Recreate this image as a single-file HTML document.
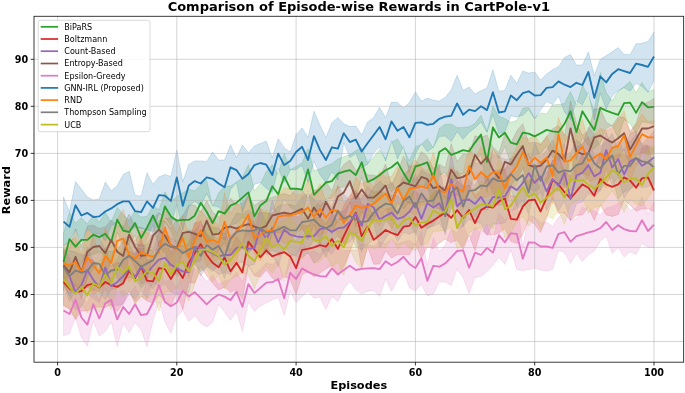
<!DOCTYPE html>
<html><head><meta charset="utf-8"><title>Comparison of Episode-wise Rewards in CartPole-v1</title>
<style>html,body{margin:0;padding:0;background:#fff}svg{display:block}</style></head>
<body>
<svg width="685" height="393" viewBox="0 0 685 393">
<rect width="685" height="393" fill="#fff"/>
<clipPath id="c"><rect x="34.0" y="16.3" width="649.65" height="345.9"/></clipPath>
<g clip-path="url(#c)">
<path d="M63.5 233.3L69.5 212.4L75.5 223.2L81.4 217.8L87.4 223.9L93.3 215.0L99.3 222.0L105.3 212.6L111.2 222.0L117.2 207.5L123.2 214.3L129.1 220.4L135.1 210.8L141.1 216.9L147.0 216.4L153.0 206.1L158.9 209.8L164.9 191.9L170.9 201.8L176.8 196.6L182.8 192.7L188.8 189.4L194.7 190.8L200.7 184.9L206.7 180.4L212.6 206.5L218.6 192.9L224.6 186.5L230.5 186.1L236.5 182.1L242.4 177.8L248.4 164.7L254.4 191.0L260.3 183.9L266.3 171.7L272.3 164.7L278.2 174.1L284.2 153.4L290.2 169.8L296.1 166.5L302.1 162.8L308.0 148.7L314.0 170.8L320.0 168.9L325.9 166.1L331.9 163.7L337.9 159.0L343.8 156.7L349.8 154.8L355.8 150.6L361.7 147.7L367.7 162.8L373.7 156.7L379.6 149.6L385.6 159.0L391.5 142.6L397.5 138.8L403.5 148.7L409.4 160.9L415.4 146.8L421.4 144.4L427.3 138.8L433.3 148.0L439.3 128.5L445.2 124.2L451.2 124.2L457.1 127.7L463.1 127.5L469.1 126.8L475.0 123.3L481.0 115.3L487.0 131.3L492.9 106.3L498.9 116.2L504.9 118.6L510.8 122.3L516.8 120.5L522.8 108.2L528.7 107.3L534.7 118.1L540.6 112.9L546.6 113.9L552.6 104.9L558.5 104.5L564.5 103.5L570.5 91.5L576.4 104.9L582.4 85.0L588.4 96.5L594.3 110.6L600.3 72.5L606.2 92.7L612.2 100.7L618.2 91.3L624.1 86.6L630.1 81.4L636.1 92.7L642.0 82.4L648.0 91.8L654.0 89.4L654.0 124.2L648.0 122.8L642.0 121.9L636.1 133.2L630.1 123.8L624.1 119.5L618.2 138.3L612.2 125.2L606.2 128.5L600.3 143.0L594.3 149.1L588.4 145.4L582.4 137.6L576.4 159.5L570.5 131.0L564.5 144.0L558.5 160.0L552.6 157.6L546.6 145.9L540.6 153.4L534.7 154.8L528.7 160.0L522.8 157.1L516.8 168.4L510.8 162.8L504.9 146.8L498.9 158.6L492.9 148.7L487.0 192.4L481.0 153.9L475.0 161.8L469.1 175.7L463.1 172.7L457.1 177.6L451.2 185.4L445.2 172.2L439.3 175.5L433.3 207.2L427.3 185.8L421.4 184.9L415.4 186.3L409.4 204.2L403.5 197.6L397.5 185.8L391.5 191.9L385.6 181.6L379.6 200.4L373.7 201.8L367.7 200.9L361.7 176.9L355.8 199.5L349.8 185.4L343.8 186.8L337.9 188.2L331.9 198.5L325.9 199.0L320.0 208.4L314.0 218.8L308.0 190.1L302.1 216.4L296.1 210.8L290.2 207.5L284.2 199.5L278.2 214.5L272.3 207.9L266.3 230.5L260.3 227.2L254.4 241.8L248.4 220.2L242.4 217.3L236.5 223.5L230.5 225.1L224.6 240.6L218.6 229.6L212.6 239.4L206.7 243.0L200.7 220.6L194.7 240.6L188.8 250.5L182.8 247.2L176.8 244.6L170.9 231.0L164.9 221.1L158.9 247.4L153.0 224.9L147.0 239.0L141.1 259.2L135.1 235.2L129.1 243.9L123.2 246.7L117.2 231.9L111.2 261.5L105.3 255.0L99.3 252.1L93.3 254.5L87.4 255.9L81.4 262.0L75.5 270.2L69.5 266.0L63.5 290.7Z" fill="#2ca02c" fill-opacity="0.2" stroke="#2ca02c" stroke-opacity="0.2" stroke-width="0.9" stroke-linejoin="round"/>
<path d="M63.5 259.2L69.5 267.6L75.5 264.7L81.4 271.4L87.4 259.2L93.3 260.0L99.3 267.8L105.3 256.5L111.2 265.8L117.2 262.4L123.2 263.5L129.1 250.9L135.1 253.6L141.1 237.0L147.0 260.2L153.0 259.5L158.9 241.1L164.9 237.8L170.9 252.5L176.8 245.0L182.8 246.3L188.8 243.3L194.7 223.0L200.7 221.5L206.7 234.3L212.6 242.4L218.6 244.3L224.6 227.8L230.5 250.2L236.5 236.3L242.4 245.1L248.4 218.1L254.4 223.5L260.3 237.7L266.3 230.7L272.3 234.9L278.2 226.3L284.2 227.7L290.2 233.4L296.1 241.6L302.1 225.0L308.0 226.1L314.0 218.2L320.0 217.1L325.9 224.7L331.9 212.6L337.9 223.1L343.8 205.8L349.8 195.5L355.8 190.0L361.7 204.4L367.7 206.4L373.7 215.6L379.6 206.4L385.6 209.2L391.5 207.6L397.5 215.9L403.5 199.1L409.4 196.9L415.4 190.5L421.4 197.3L427.3 201.0L433.3 192.7L439.3 189.8L445.2 186.2L451.2 193.0L457.1 180.2L463.1 186.6L469.1 185.0L475.0 195.7L481.0 190.4L487.0 178.5L492.9 180.1L498.9 169.5L504.9 168.9L510.8 196.2L516.8 195.8L522.8 178.9L528.7 181.3L534.7 174.6L540.6 190.4L546.6 177.2L552.6 160.1L558.5 155.5L564.5 171.7L570.5 176.2L576.4 167.5L582.4 154.1L588.4 167.8L594.3 171.0L600.3 153.0L606.2 154.0L612.2 157.2L618.2 154.2L624.1 154.9L630.1 156.4L636.1 164.2L642.0 147.9L648.0 145.9L654.0 169.7L654.0 211.3L648.0 208.8L642.0 208.8L636.1 211.2L630.1 204.9L624.1 199.8L618.2 214.6L612.2 216.4L606.2 214.9L600.3 205.1L594.3 220.4L588.4 207.6L582.4 214.7L576.4 215.4L570.5 220.4L564.5 212.7L558.5 213.3L552.6 199.3L546.6 217.9L540.6 232.5L534.7 224.4L528.7 219.5L522.8 234.1L516.8 243.6L510.8 241.3L504.9 228.2L498.9 233.2L492.9 234.8L487.0 234.6L481.0 229.7L475.0 250.8L469.1 235.1L463.1 249.1L457.1 239.9L451.2 242.6L445.2 239.1L439.3 243.0L433.3 248.6L427.3 246.9L421.4 258.0L415.4 243.2L409.4 254.7L403.5 254.4L397.5 254.5L391.5 258.1L385.6 250.9L379.6 264.0L373.7 264.2L367.7 247.1L361.7 267.9L355.8 235.2L349.8 252.3L343.8 266.5L337.9 274.6L331.9 265.4L325.9 268.8L320.0 273.1L314.0 276.7L308.0 271.6L302.1 274.6L296.1 294.7L290.2 279.3L284.2 276.6L278.2 281.8L272.3 277.9L266.3 269.9L260.3 277.0L254.4 275.6L248.4 265.5L242.4 299.6L236.5 289.2L230.5 292.6L224.6 286.9L218.6 290.1L212.6 283.1L206.7 275.7L200.7 266.8L194.7 283.2L188.8 282.2L182.8 309.7L176.8 293.1L170.9 305.4L164.9 300.4L158.9 295.2L153.0 303.1L147.0 301.0L141.1 296.4L135.1 302.4L129.1 291.0L123.2 302.9L117.2 311.5L111.2 304.4L105.3 307.5L99.3 307.0L93.3 307.3L87.4 310.9L81.4 310.9L75.5 319.5L69.5 309.2L63.5 305.3Z" fill="#d62728" fill-opacity="0.2" stroke="#d62728" stroke-opacity="0.2" stroke-width="0.9" stroke-linejoin="round"/>
<path d="M63.5 248.2L69.5 257.8L75.5 273.8L81.4 263.2L87.4 246.7L93.3 261.1L99.3 272.3L105.3 246.5L111.2 265.7L117.2 259.2L123.2 247.6L129.1 244.3L135.1 254.7L141.1 243.0L147.0 249.2L153.0 250.0L158.9 231.9L164.9 231.7L170.9 237.5L176.8 241.8L182.8 250.8L188.8 251.7L194.7 230.5L200.7 223.9L206.7 234.3L212.6 237.1L218.6 238.4L224.6 237.6L230.5 235.1L236.5 232.1L242.4 231.9L248.4 231.7L254.4 231.4L260.3 208.4L266.3 223.6L272.3 200.3L278.2 219.0L284.2 212.4L290.2 216.1L296.1 216.4L302.1 216.9L308.0 219.4L314.0 209.1L320.0 200.0L325.9 206.5L331.9 210.0L337.9 211.9L343.8 211.0L349.8 202.2L355.8 194.8L361.7 199.1L367.7 186.4L373.7 192.1L379.6 191.2L385.6 193.4L391.5 195.5L397.5 196.0L403.5 201.4L409.4 189.2L415.4 173.9L421.4 191.5L427.3 178.4L433.3 188.7L439.3 183.0L445.2 197.1L451.2 153.3L457.1 184.0L463.1 174.4L469.1 179.8L475.0 185.7L481.0 170.4L487.0 177.6L492.9 169.8L498.9 171.2L504.9 169.6L510.8 160.8L516.8 171.8L522.8 160.7L528.7 153.1L534.7 167.6L540.6 161.0L546.6 172.5L552.6 160.3L558.5 161.0L564.5 144.1L570.5 177.6L576.4 147.2L582.4 143.7L588.4 136.6L594.3 156.2L600.3 154.5L606.2 131.8L612.2 149.7L618.2 141.1L624.1 150.7L630.1 133.6L636.1 131.2L642.0 144.0L648.0 138.1L654.0 130.8L654.0 183.5L648.0 186.6L642.0 187.7L636.1 185.0L630.1 189.1L624.1 198.4L618.2 177.0L612.2 185.3L606.2 168.3L600.3 190.8L594.3 196.6L588.4 193.7L582.4 201.7L576.4 203.8L570.5 220.4L564.5 201.2L558.5 210.7L552.6 197.7L546.6 210.5L540.6 191.9L534.7 198.5L528.7 193.2L522.8 205.4L516.8 208.3L510.8 211.8L504.9 222.8L498.9 224.0L492.9 224.0L487.0 235.5L481.0 223.4L475.0 222.1L469.1 219.2L463.1 226.5L457.1 229.1L451.2 205.2L445.2 231.9L439.3 223.5L433.3 226.2L427.3 228.1L421.4 246.0L415.4 231.6L409.4 234.2L403.5 232.3L397.5 241.5L391.5 229.8L385.6 238.4L379.6 248.2L373.7 222.8L367.7 221.0L361.7 252.6L355.8 232.4L349.8 241.9L343.8 243.9L337.9 244.4L331.9 253.8L325.9 249.8L320.0 258.2L314.0 263.2L308.0 252.9L302.1 257.3L296.1 256.3L290.2 253.4L284.2 246.7L278.2 266.5L272.3 255.1L266.3 254.4L260.3 248.8L254.4 264.4L248.4 266.0L242.4 262.0L236.5 263.7L230.5 274.8L224.6 272.3L218.6 274.4L212.6 269.1L206.7 266.2L200.7 271.9L194.7 263.5L188.8 293.0L182.8 292.0L176.8 294.4L170.9 292.2L164.9 283.8L158.9 287.4L153.0 281.6L147.0 298.4L141.1 290.5L135.1 299.4L129.1 293.9L123.2 304.6L117.2 305.3L111.2 306.3L105.3 288.4L99.3 302.5L93.3 298.6L87.4 293.4L81.4 307.0L75.5 310.5L69.5 294.5L63.5 283.3Z" fill="#9467bd" fill-opacity="0.2" stroke="#9467bd" stroke-opacity="0.2" stroke-width="0.9" stroke-linejoin="round"/>
<path d="M63.5 249.1L69.5 248.0L75.5 229.0L81.4 246.3L87.4 226.0L93.3 225.2L99.3 228.5L105.3 226.9L111.2 220.2L117.2 225.3L123.2 227.1L129.1 214.1L135.1 226.3L141.1 227.5L147.0 229.7L153.0 218.2L158.9 212.7L164.9 218.5L170.9 217.7L176.8 221.5L182.8 215.7L188.8 205.2L194.7 204.9L200.7 212.1L206.7 200.6L212.6 212.0L218.6 216.9L224.6 212.4L230.5 198.0L236.5 204.4L242.4 203.3L248.4 195.9L254.4 205.6L260.3 201.3L266.3 199.1L272.3 197.4L278.2 195.4L284.2 193.5L290.2 195.6L296.1 188.4L302.1 190.2L308.0 197.8L314.0 190.6L320.0 189.0L325.9 181.8L331.9 191.1L337.9 173.4L343.8 164.6L349.8 160.1L355.8 170.5L361.7 167.5L367.7 175.0L373.7 175.2L379.6 177.1L385.6 164.1L391.5 185.1L397.5 172.1L403.5 156.2L409.4 166.9L415.4 164.6L421.4 151.6L427.3 156.3L433.3 168.5L439.3 163.9L445.2 167.9L451.2 143.7L457.1 161.8L463.1 153.9L469.1 154.6L475.0 135.8L481.0 137.8L487.0 134.9L492.9 146.9L498.9 152.5L504.9 133.9L510.8 143.1L516.8 131.1L522.8 123.7L528.7 142.9L534.7 142.2L540.6 144.2L546.6 136.9L552.6 128.8L558.5 125.8L564.5 136.0L570.5 101.0L576.4 123.2L582.4 135.4L588.4 130.4L594.3 109.0L600.3 108.6L606.2 122.3L612.2 125.8L618.2 117.0L624.1 117.1L630.1 131.2L636.1 123.2L642.0 104.0L648.0 102.3L654.0 98.4L654.0 153.8L648.0 154.6L642.0 152.9L636.1 155.4L630.1 168.1L624.1 149.2L618.2 159.6L612.2 159.3L606.2 156.3L600.3 162.4L594.3 165.7L588.4 176.3L582.4 172.8L576.4 179.8L570.5 155.9L564.5 185.8L558.5 182.4L552.6 172.4L546.6 182.1L540.6 187.0L534.7 191.8L528.7 187.4L522.8 168.0L516.8 178.5L510.8 185.7L504.9 189.8L498.9 204.1L492.9 192.8L487.0 179.4L481.0 189.7L475.0 173.7L469.1 191.7L463.1 199.8L457.1 194.9L451.2 196.0L445.2 213.7L439.3 208.7L433.3 207.8L427.3 202.1L421.4 202.2L415.4 208.0L409.4 201.9L403.5 208.9L397.5 202.3L391.5 220.4L385.6 206.6L379.6 207.7L373.7 220.0L367.7 220.1L361.7 211.7L355.8 226.5L349.8 202.1L343.8 220.2L337.9 219.9L331.9 234.2L325.9 221.9L320.0 244.8L314.0 224.4L308.0 239.7L302.1 227.6L296.1 235.0L290.2 232.5L284.2 231.8L278.2 232.7L272.3 233.5L266.3 252.5L260.3 256.0L254.4 247.9L248.4 252.4L242.4 248.3L236.5 252.8L230.5 255.5L224.6 242.9L218.6 250.7L212.6 257.5L206.7 240.6L200.7 260.7L194.7 262.7L188.8 258.6L182.8 250.0L176.8 274.3L170.9 273.4L164.9 252.9L158.9 246.4L153.0 253.1L147.0 280.2L141.1 284.3L135.1 267.7L129.1 255.4L123.2 284.7L117.2 278.0L111.2 259.7L105.3 279.3L99.3 263.6L93.3 268.8L87.4 277.3L81.4 298.5L75.5 284.7L69.5 296.7L63.5 281.6Z" fill="#8c564b" fill-opacity="0.2" stroke="#8c564b" stroke-opacity="0.2" stroke-width="0.9" stroke-linejoin="round"/>
<path d="M63.5 285.1L69.5 294.7L75.5 282.2L81.4 297.3L87.4 302.9L93.3 287.9L99.3 301.1L105.3 275.2L111.2 278.0L117.2 292.4L123.2 290.2L129.1 295.4L135.1 286.0L141.1 300.6L147.0 281.3L153.0 284.1L158.9 268.6L164.9 282.2L170.9 279.2L176.8 288.4L182.8 271.4L188.8 271.2L194.7 268.4L200.7 273.5L206.7 281.8L212.6 275.2L218.6 284.6L224.6 280.8L230.5 279.9L236.5 271.9L242.4 281.8L248.4 266.3L254.4 274.7L260.3 269.5L266.3 262.7L272.3 264.4L278.2 260.6L284.2 281.3L290.2 254.5L296.1 255.2L302.1 240.4L308.0 252.6L314.0 250.7L320.0 255.0L325.9 243.7L331.9 240.4L337.9 247.4L343.8 250.7L349.8 250.3L355.8 250.3L361.7 243.7L367.7 245.6L373.7 246.0L379.6 241.8L385.6 243.7L391.5 239.4L397.5 244.1L403.5 241.8L409.4 240.2L415.4 245.1L421.4 231.9L427.3 265.8L433.3 237.6L439.3 251.4L445.2 244.9L451.2 229.1L457.1 233.1L463.1 223.0L469.1 241.8L475.0 227.7L481.0 233.3L487.0 224.4L492.9 239.9L498.9 213.1L504.9 220.2L510.8 217.1L516.8 198.1L522.8 247.0L528.7 215.0L534.7 217.3L540.6 223.0L546.6 222.0L552.6 226.3L558.5 217.3L564.5 211.7L570.5 220.2L576.4 218.8L582.4 207.0L588.4 210.3L594.3 211.0L600.3 215.0L606.2 207.9L612.2 206.5L618.2 203.2L624.1 201.1L630.1 210.3L636.1 208.4L642.0 197.1L648.0 214.5L654.0 201.8L654.0 247.4L648.0 247.4L642.0 243.2L636.1 254.5L630.1 251.7L624.1 257.1L618.2 247.4L612.2 253.6L606.2 236.2L600.3 241.3L594.3 251.0L588.4 254.5L582.4 261.5L576.4 253.6L570.5 263.4L564.5 252.6L558.5 250.3L552.6 269.5L546.6 271.0L540.6 270.0L534.7 268.1L528.7 269.5L522.8 270.5L516.8 269.5L510.8 249.6L504.9 264.4L498.9 257.3L492.9 265.3L487.0 271.4L481.0 276.6L475.0 277.5L469.1 293.5L463.1 277.5L457.1 268.8L451.2 285.5L445.2 282.0L439.3 282.0L433.3 294.0L427.3 295.9L421.4 284.6L415.4 291.2L409.4 287.7L403.5 271.9L397.5 279.9L391.5 291.2L385.6 279.0L379.6 296.4L373.7 290.2L367.7 291.2L361.7 294.0L355.8 289.8L349.8 281.3L343.8 289.3L337.9 301.5L331.9 296.4L325.9 309.5L320.0 297.3L314.0 298.2L308.0 291.2L302.1 296.4L296.1 302.7L290.2 291.2L284.2 315.2L278.2 297.3L272.3 300.1L266.3 302.7L260.3 306.2L254.4 311.4L248.4 302.0L242.4 331.6L236.5 311.4L230.5 320.3L224.6 312.3L218.6 304.3L212.6 322.2L206.7 326.9L200.7 322.9L194.7 315.9L188.8 321.5L182.8 310.5L176.8 316.6L170.9 333.3L164.9 321.7L158.9 301.5L153.0 320.8L147.0 346.7L141.1 329.7L135.1 322.7L129.1 332.6L123.2 323.6L117.2 346.4L111.2 321.7L105.3 331.6L99.3 335.9L93.3 320.8L87.4 346.2L81.4 337.7L75.5 317.5L69.5 333.3L63.5 335.9Z" fill="#e377c2" fill-opacity="0.2" stroke="#e377c2" stroke-opacity="0.2" stroke-width="0.9" stroke-linejoin="round"/>
<path d="M63.5 197.1L69.5 211.7L75.5 181.6L81.4 189.1L87.4 197.1L93.3 199.9L99.3 199.0L105.3 182.1L111.2 190.8L117.2 185.8L123.2 174.5L129.1 171.3L135.1 195.2L141.1 196.2L147.0 172.7L153.0 184.4L158.9 176.9L164.9 174.5L170.9 176.4L176.8 150.1L182.8 181.6L188.8 164.4L194.7 160.9L200.7 160.9L206.7 161.4L212.6 152.0L218.6 160.0L224.6 160.0L230.5 144.9L236.5 157.6L242.4 145.1L248.4 152.7L254.4 145.9L260.3 143.5L266.3 141.2L272.3 157.6L278.2 138.8L284.2 147.7L290.2 152.0L296.1 134.6L302.1 128.0L308.0 137.4L314.0 111.3L320.0 125.2L325.9 137.4L331.9 122.8L337.9 117.4L343.8 123.8L349.8 126.6L355.8 126.1L361.7 135.0L367.7 121.9L373.7 117.4L379.6 107.3L385.6 117.4L391.5 102.1L397.5 102.6L403.5 107.8L409.4 102.6L415.4 91.8L421.4 101.2L427.3 98.1L433.3 100.2L439.3 101.2L445.2 97.4L451.2 89.9L457.1 75.3L463.1 90.4L469.1 87.1L475.0 94.1L481.0 90.8L487.0 87.8L492.9 69.7L498.9 91.3L504.9 90.4L510.8 75.3L516.8 83.3L522.8 71.1L528.7 73.0L534.7 72.0L540.6 80.0L546.6 73.9L552.6 69.7L558.5 66.8L564.5 57.4L570.5 54.6L576.4 65.0L582.4 65.0L588.4 51.8L594.3 75.8L600.3 59.3L606.2 55.6L612.2 51.8L618.2 47.6L624.1 54.6L630.1 54.6L636.1 43.8L642.0 43.3L648.0 41.4L654.0 32.0L654.0 81.0L648.0 92.2L642.0 86.6L636.1 83.3L630.1 91.3L624.1 87.5L618.2 90.8L612.2 96.0L606.2 109.2L600.3 93.2L594.3 120.0L588.4 92.2L582.4 104.9L576.4 100.7L570.5 119.5L564.5 112.0L558.5 96.0L552.6 104.5L546.6 101.6L540.6 110.1L534.7 119.0L528.7 109.6L522.8 115.3L516.8 117.2L510.8 115.8L504.9 132.2L498.9 133.6L492.9 114.8L487.0 132.5L481.0 121.9L475.0 128.0L469.1 132.2L463.1 139.3L457.1 131.7L451.2 141.6L445.2 136.0L439.3 136.4L433.3 147.3L427.3 151.7L421.4 143.5L415.4 153.9L409.4 172.2L403.5 146.3L397.5 159.0L391.5 140.7L385.6 161.1L379.6 146.8L373.7 152.7L367.7 164.2L361.7 168.0L355.8 153.4L349.8 157.6L343.8 142.6L337.9 180.0L331.9 171.7L325.9 182.5L320.0 175.0L314.0 161.1L308.0 182.5L302.1 165.6L296.1 169.4L290.2 169.8L284.2 182.5L278.2 168.3L272.3 192.4L266.3 188.2L260.3 182.5L254.4 184.4L248.4 195.5L242.4 212.4L236.5 182.5L230.5 189.6L224.6 214.5L218.6 207.0L212.6 205.6L206.7 193.4L200.7 206.1L194.7 201.4L188.8 206.3L182.8 230.0L176.8 204.6L170.9 225.3L164.9 216.9L158.9 213.6L153.0 231.4L147.0 230.0L141.1 228.2L135.1 227.2L129.1 231.4L123.2 228.2L117.2 222.5L111.2 226.0L105.3 240.9L99.3 233.8L93.3 234.3L87.4 228.6L81.4 241.8L75.5 229.1L69.5 241.8L63.5 246.0Z" fill="#1f77b4" fill-opacity="0.2" stroke="#1f77b4" stroke-opacity="0.2" stroke-width="0.9" stroke-linejoin="round"/>
<path d="M63.5 246.2L69.5 240.2L75.5 237.7L81.4 255.3L87.4 229.3L93.3 236.6L99.3 255.2L105.3 227.4L111.2 242.3L117.2 218.9L123.2 209.5L129.1 228.2L135.1 241.2L141.1 231.2L147.0 232.6L153.0 237.0L158.9 234.6L164.9 208.1L170.9 220.8L176.8 234.5L182.8 215.2L188.8 236.1L194.7 225.6L200.7 210.5L206.7 217.9L212.6 217.6L218.6 226.8L224.6 192.6L230.5 213.7L236.5 203.2L242.4 208.3L248.4 195.7L254.4 222.4L260.3 208.7L266.3 212.1L272.3 214.1L278.2 195.4L284.2 187.6L290.2 188.9L296.1 194.9L302.1 194.5L308.0 179.4L314.0 193.8L320.0 183.9L325.9 201.5L331.9 194.0L337.9 186.0L343.8 201.9L349.8 198.9L355.8 177.3L361.7 183.9L367.7 180.2L373.7 187.5L379.6 171.4L385.6 177.4L391.5 176.5L397.5 166.5L403.5 180.6L409.4 165.8L415.4 159.8L421.4 167.5L427.3 171.3L433.3 152.5L439.3 172.4L445.2 175.8L451.2 166.6L457.1 172.4L463.1 173.6L469.1 146.6L475.0 159.9L481.0 146.4L487.0 158.5L492.9 150.1L498.9 155.6L504.9 168.2L510.8 158.8L516.8 147.5L522.8 136.7L528.7 139.0L534.7 134.8L540.6 145.1L546.6 135.9L552.6 147.7L558.5 117.5L564.5 135.2L570.5 139.3L576.4 131.3L582.4 119.5L588.4 140.3L594.3 135.4L600.3 128.6L606.2 130.6L612.2 127.9L618.2 119.5L624.1 110.5L630.1 132.6L636.1 124.6L642.0 114.1L648.0 121.6L654.0 120.5L654.0 154.3L648.0 153.2L642.0 154.1L636.1 166.1L630.1 180.7L624.1 160.5L618.2 173.1L612.2 167.6L606.2 188.4L600.3 178.1L594.3 179.8L588.4 181.5L582.4 173.2L576.4 175.4L570.5 181.6L564.5 188.4L558.5 150.6L552.6 204.2L546.6 179.4L540.6 180.5L534.7 180.4L528.7 189.8L522.8 167.2L516.8 184.7L510.8 189.4L504.9 208.1L498.9 190.7L492.9 194.3L487.0 196.7L481.0 198.0L475.0 198.6L469.1 185.5L463.1 209.4L457.1 203.9L451.2 201.3L445.2 209.0L439.3 209.2L433.3 197.5L427.3 205.1L421.4 205.1L415.4 216.1L409.4 211.5L403.5 220.2L397.5 209.4L391.5 230.9L385.6 209.3L379.6 225.7L373.7 219.9L367.7 232.9L361.7 231.9L355.8 233.9L349.8 231.1L343.8 244.0L337.9 235.5L331.9 225.7L325.9 234.1L320.0 233.8L314.0 240.0L308.0 235.5L302.1 228.9L296.1 232.3L290.2 242.1L284.2 243.4L278.2 237.4L272.3 247.9L266.3 249.8L260.3 260.8L254.4 253.6L248.4 233.3L242.4 241.4L236.5 260.7L230.5 266.1L224.6 250.5L218.6 258.7L212.6 262.2L206.7 265.6L200.7 250.0L194.7 256.2L188.8 278.6L182.8 260.9L176.8 265.1L170.9 271.3L164.9 247.2L158.9 270.2L153.0 276.7L147.0 277.3L141.1 273.5L135.1 275.8L129.1 281.8L123.2 267.5L117.2 262.8L111.2 283.6L105.3 284.4L99.3 291.5L93.3 294.0L87.4 284.4L81.4 289.4L75.5 286.4L69.5 290.5L63.5 280.7Z" fill="#ff7f0e" fill-opacity="0.2" stroke="#ff7f0e" stroke-opacity="0.2" stroke-width="0.9" stroke-linejoin="round"/>
<path d="M63.5 251.1L69.5 250.6L75.5 251.8L81.4 255.2L87.4 254.7L93.3 236.0L99.3 236.6L105.3 250.7L111.2 251.5L117.2 251.1L123.2 240.5L129.1 234.4L135.1 243.8L141.1 245.4L147.0 244.7L153.0 231.8L158.9 220.5L164.9 220.9L170.9 228.5L176.8 219.2L182.8 233.7L188.8 229.5L194.7 231.9L200.7 235.2L206.7 223.3L212.6 227.4L218.6 228.1L224.6 234.2L230.5 223.9L236.5 213.1L242.4 214.0L248.4 210.3L254.4 214.6L260.3 212.3L266.3 213.5L272.3 213.6L278.2 206.3L284.2 204.2L290.2 204.6L296.1 205.9L302.1 196.9L308.0 193.7L314.0 199.1L320.0 206.2L325.9 199.2L331.9 207.7L337.9 185.5L343.8 194.6L349.8 200.3L355.8 192.9L361.7 194.4L367.7 197.2L373.7 187.2L379.6 181.0L385.6 186.7L391.5 182.2L397.5 191.4L403.5 174.3L409.4 170.2L415.4 180.8L421.4 170.1L427.3 173.7L433.3 175.7L439.3 165.2L445.2 198.1L451.2 176.9L457.1 170.3L463.1 186.4L469.1 174.2L475.0 163.2L481.0 162.4L487.0 162.4L492.9 154.4L498.9 156.5L504.9 159.2L510.8 159.0L516.8 153.9L522.8 149.4L528.7 170.3L534.7 142.5L540.6 156.3L546.6 150.6L552.6 139.7L558.5 154.1L564.5 154.2L570.5 152.5L576.4 139.8L582.4 145.3L588.4 127.2L594.3 134.4L600.3 146.4L606.2 140.9L612.2 133.5L618.2 149.8L624.1 140.0L630.1 142.1L636.1 134.0L642.0 145.2L648.0 145.2L654.0 148.9L654.0 186.1L648.0 179.4L642.0 177.5L636.1 182.2L630.1 189.6L624.1 191.7L618.2 199.2L612.2 177.1L606.2 181.8L600.3 190.4L594.3 192.1L588.4 178.2L582.4 181.2L576.4 190.5L570.5 190.0L564.5 186.4L558.5 191.3L552.6 190.6L546.6 182.5L540.6 205.0L534.7 187.7L528.7 214.6L522.8 200.6L516.8 206.5L510.8 189.2L504.9 203.1L498.9 205.8L492.9 202.2L487.0 210.2L481.0 208.3L475.0 216.9L469.1 207.3L463.1 226.7L457.1 204.2L451.2 207.9L445.2 234.7L439.3 214.9L433.3 225.1L427.3 229.0L421.4 216.6L415.4 234.2L409.4 223.1L403.5 227.9L397.5 235.7L391.5 227.1L385.6 220.7L379.6 234.0L373.7 238.0L367.7 245.0L361.7 249.7L355.8 246.5L349.8 231.6L343.8 242.9L337.9 236.0L331.9 242.0L325.9 257.1L320.0 245.5L314.0 240.2L308.0 248.6L302.1 247.2L296.1 254.6L290.2 255.9L284.2 249.3L278.2 252.9L272.3 250.3L266.3 252.2L260.3 243.1L254.4 245.9L248.4 251.7L242.4 246.6L236.5 250.7L230.5 254.1L224.6 278.5L218.6 263.9L212.6 271.7L206.7 266.8L200.7 276.1L194.7 262.0L188.8 269.6L182.8 272.5L176.8 276.6L170.9 265.5L164.9 266.4L158.9 278.1L153.0 289.0L147.0 282.2L141.1 288.1L135.1 278.4L129.1 277.4L123.2 278.9L117.2 288.0L111.2 289.5L105.3 299.7L99.3 291.2L93.3 289.9L87.4 287.2L81.4 290.0L75.5 289.1L69.5 301.6L63.5 283.2Z" fill="#7f7f7f" fill-opacity="0.2" stroke="#7f7f7f" stroke-opacity="0.2" stroke-width="0.9" stroke-linejoin="round"/>
<path d="M63.5 252.2L69.5 266.0L75.5 269.4L81.4 269.9L87.4 277.7L93.3 262.7L99.3 261.2L105.3 248.4L111.2 257.8L117.2 246.0L123.2 249.1L129.1 243.7L135.1 258.2L141.1 259.5L147.0 242.3L153.0 253.3L158.9 251.5L164.9 233.7L170.9 257.3L176.8 241.9L182.8 234.3L188.8 241.7L194.7 238.2L200.7 229.1L206.7 229.9L212.6 222.8L218.6 236.0L224.6 239.8L230.5 241.3L236.5 228.3L242.4 214.0L248.4 237.0L254.4 233.3L260.3 226.6L266.3 209.4L272.3 220.8L278.2 224.2L284.2 220.8L290.2 217.5L296.1 224.5L302.1 225.3L308.0 204.8L314.0 217.0L320.0 219.7L325.9 217.4L331.9 224.6L337.9 219.5L343.8 219.4L349.8 215.9L355.8 208.4L361.7 212.6L367.7 208.9L373.7 190.6L379.6 194.1L385.6 190.9L391.5 196.1L397.5 205.6L403.5 199.0L409.4 187.7L415.4 201.1L421.4 200.8L427.3 199.0L433.3 190.2L439.3 196.0L445.2 193.4L451.2 171.5L457.1 207.0L463.1 187.6L469.1 192.4L475.0 188.0L481.0 181.0L487.0 185.2L492.9 184.7L498.9 159.6L504.9 180.8L510.8 178.0L516.8 170.9L522.8 158.3L528.7 167.6L534.7 169.2L540.6 176.4L546.6 180.0L552.6 165.6L558.5 164.8L564.5 170.7L570.5 153.6L576.4 160.0L582.4 162.1L588.4 155.3L594.3 170.0L600.3 160.3L606.2 155.9L612.2 149.5L618.2 146.9L624.1 152.8L630.1 158.7L636.1 152.7L642.0 164.2L648.0 149.3L654.0 145.4L654.0 189.6L648.0 197.9L642.0 206.0L636.1 203.9L630.1 199.4L624.1 212.3L618.2 200.3L612.2 191.2L606.2 198.8L600.3 206.6L594.3 207.3L588.4 213.6L582.4 197.3L576.4 201.4L570.5 204.4L564.5 224.4L558.5 210.6L552.6 218.8L546.6 215.2L540.6 229.2L534.7 217.5L528.7 226.2L522.8 216.2L516.8 221.4L510.8 233.2L504.9 237.9L498.9 218.6L492.9 228.4L487.0 224.1L481.0 228.3L475.0 228.8L469.1 232.9L463.1 246.1L457.1 248.4L451.2 227.4L445.2 230.0L439.3 231.1L433.3 231.3L427.3 244.1L421.4 244.2L415.4 250.5L409.4 247.9L403.5 243.2L397.5 249.3L391.5 237.6L385.6 248.5L379.6 246.7L373.7 248.8L367.7 246.0L361.7 268.6L355.8 262.0L349.8 249.8L343.8 275.4L337.9 261.7L331.9 267.5L325.9 254.9L320.0 261.5L314.0 262.8L308.0 251.6L302.1 259.2L296.1 259.1L290.2 264.2L284.2 278.3L278.2 264.1L272.3 273.2L266.3 266.6L260.3 273.9L254.4 288.8L248.4 274.3L242.4 272.9L236.5 276.0L230.5 278.9L224.6 289.0L218.6 275.4L212.6 281.5L206.7 269.3L200.7 270.0L194.7 283.9L188.8 301.1L182.8 289.7L176.8 287.8L170.9 291.6L164.9 292.2L158.9 311.1L153.0 292.4L147.0 299.7L141.1 296.5L135.1 304.4L129.1 289.8L123.2 296.6L117.2 287.5L111.2 309.5L105.3 300.5L99.3 312.7L93.3 303.7L87.4 313.1L81.4 304.0L75.5 318.2L69.5 307.9L63.5 305.7Z" fill="#bcbd22" fill-opacity="0.2" stroke="#bcbd22" stroke-opacity="0.2" stroke-width="0.9" stroke-linejoin="round"/>
</g>
<path d="M57.6 16.3V362.2M176.8 16.3V362.2M296.1 16.3V362.2M415.4 16.3V362.2M534.7 16.3V362.2M654.0 16.3V362.2M34.0 341.5H683.65M34.0 294.5H683.65M34.0 247.4H683.65M34.0 200.4H683.65M34.0 153.4H683.65M34.0 106.3H683.65M34.0 59.3H683.65" stroke="#b0b0b0" stroke-opacity="0.6" stroke-width="0.9" fill="none"/>
<g clip-path="url(#c)" fill="none" stroke-linejoin="round" stroke-linecap="butt">
<path d="M63.5 262.0L69.5 239.2L75.5 246.7L81.4 239.9L87.4 239.9L93.3 234.7L99.3 237.1L105.3 233.8L111.2 241.8L117.2 219.7L123.2 230.5L129.1 232.2L135.1 223.0L141.1 238.0L147.0 227.7L153.0 215.5L158.9 228.6L164.9 206.5L170.9 216.4L176.8 220.6L182.8 219.9L188.8 219.9L194.7 215.7L200.7 202.8L206.7 211.7L212.6 223.0L218.6 211.2L224.6 213.6L230.5 205.6L236.5 202.8L242.4 197.6L248.4 192.4L254.4 216.4L260.3 205.6L266.3 201.1L272.3 186.3L278.2 194.3L284.2 176.4L290.2 188.7L296.1 188.7L302.1 189.6L308.0 169.4L314.0 194.8L320.0 188.7L325.9 182.5L331.9 181.1L337.9 173.6L343.8 171.7L349.8 170.1L355.8 175.0L361.7 162.3L367.7 181.8L373.7 179.2L379.6 175.0L385.6 170.3L391.5 167.3L397.5 162.3L403.5 173.1L409.4 182.5L415.4 166.5L421.4 164.7L427.3 162.3L433.3 177.6L439.3 152.0L445.2 148.2L451.2 154.8L457.1 152.7L463.1 150.1L469.1 151.3L475.0 142.6L481.0 134.6L487.0 161.8L492.9 127.5L498.9 137.4L504.9 132.7L510.8 142.6L516.8 144.4L522.8 132.7L528.7 133.6L534.7 136.4L540.6 133.2L546.6 129.9L552.6 131.3L558.5 132.2L564.5 123.8L570.5 111.3L576.4 132.2L582.4 111.3L588.4 120.9L594.3 129.9L600.3 107.8L606.2 110.6L612.2 112.9L618.2 114.8L624.1 103.1L630.1 102.6L636.1 112.9L642.0 102.1L648.0 107.3L654.0 106.8" stroke="#2ca02c" stroke-width="1.85"/>
<path d="M63.5 282.2L69.5 288.4L75.5 292.1L81.4 291.2L87.4 285.1L93.3 283.7L99.3 287.4L105.3 282.0L111.2 285.1L117.2 286.9L123.2 283.2L129.1 271.0L135.1 278.0L141.1 266.7L147.0 280.6L153.0 281.3L158.9 268.1L164.9 269.1L170.9 279.0L176.8 269.1L182.8 278.0L188.8 262.7L194.7 253.1L200.7 244.1L206.7 255.0L212.6 262.7L218.6 267.2L224.6 257.3L230.5 271.4L236.5 262.7L242.4 272.4L248.4 241.8L254.4 249.6L260.3 257.3L266.3 250.3L272.3 256.4L278.2 254.0L284.2 252.1L290.2 256.4L296.1 268.1L302.1 249.8L308.0 248.9L314.0 247.4L320.0 245.1L325.9 246.7L331.9 239.0L337.9 248.9L343.8 236.2L349.8 223.9L355.8 212.6L361.7 236.2L367.7 226.7L373.7 239.9L379.6 235.2L385.6 230.0L391.5 232.9L397.5 235.2L403.5 226.7L409.4 225.8L415.4 216.9L421.4 227.7L427.3 223.9L433.3 220.6L439.3 216.4L445.2 212.6L451.2 217.8L457.1 210.1L463.1 217.8L469.1 210.1L475.0 223.2L481.0 210.1L487.0 206.5L492.9 207.5L498.9 201.4L504.9 198.5L510.8 218.8L516.8 219.7L522.8 206.5L528.7 200.4L534.7 199.5L540.6 211.5L546.6 197.6L552.6 179.7L558.5 184.4L564.5 192.2L570.5 198.3L576.4 191.5L582.4 184.4L588.4 187.7L594.3 195.7L600.3 179.0L606.2 184.4L612.2 186.8L618.2 184.4L624.1 177.4L630.1 180.7L636.1 187.7L642.0 178.3L648.0 177.4L654.0 190.5" stroke="#d62728" stroke-width="1.85"/>
<path d="M63.5 265.8L69.5 276.1L75.5 292.1L81.4 285.1L87.4 270.0L93.3 279.9L99.3 287.4L105.3 267.4L111.2 286.0L117.2 282.2L123.2 276.1L129.1 269.1L135.1 277.1L141.1 266.7L147.0 273.8L153.0 265.8L158.9 259.7L164.9 257.8L170.9 264.8L176.8 268.1L182.8 271.4L188.8 272.4L194.7 247.0L200.7 247.9L206.7 250.3L212.6 253.1L218.6 256.4L224.6 255.0L230.5 255.0L236.5 247.9L242.4 247.0L248.4 248.9L254.4 247.9L260.3 228.6L266.3 239.0L272.3 227.7L278.2 242.7L284.2 229.6L290.2 234.7L296.1 236.4L302.1 237.1L308.0 236.2L314.0 236.2L320.0 229.1L325.9 228.2L331.9 231.9L337.9 228.2L343.8 227.5L349.8 222.0L355.8 213.6L361.7 225.8L367.7 203.7L373.7 207.5L379.6 219.7L385.6 215.9L391.5 212.6L397.5 218.8L403.5 216.9L409.4 211.7L415.4 202.8L421.4 218.8L427.3 203.2L433.3 207.5L439.3 203.2L445.2 214.5L451.2 179.2L457.1 206.5L463.1 200.4L469.1 199.5L475.0 203.9L481.0 196.9L487.0 206.5L492.9 196.9L498.9 197.6L504.9 196.2L510.8 186.3L516.8 190.1L522.8 183.0L528.7 173.1L534.7 183.0L540.6 176.4L546.6 191.5L552.6 179.0L558.5 185.8L564.5 172.7L570.5 199.0L576.4 175.5L582.4 172.7L588.4 165.1L594.3 176.4L600.3 172.7L606.2 150.1L612.2 167.5L618.2 159.0L624.1 174.5L630.1 161.4L636.1 158.1L642.0 165.8L648.0 162.3L654.0 157.1" stroke="#9467bd" stroke-width="1.85"/>
<path d="M63.5 265.3L69.5 272.4L75.5 256.8L81.4 272.4L87.4 251.7L93.3 247.0L99.3 246.0L105.3 253.1L111.2 239.9L117.2 251.7L123.2 255.9L129.1 234.7L135.1 247.0L141.1 255.9L147.0 255.0L153.0 235.7L158.9 229.6L164.9 235.7L170.9 245.6L176.8 247.9L182.8 232.9L188.8 231.9L194.7 233.8L200.7 236.4L206.7 220.6L212.6 234.7L218.6 233.8L224.6 227.7L230.5 226.7L236.5 228.6L242.4 225.8L248.4 224.2L254.4 226.7L260.3 228.6L266.3 225.8L272.3 215.5L278.2 214.0L284.2 212.6L290.2 214.0L296.1 211.7L302.1 208.9L308.0 218.8L314.0 207.5L320.0 216.9L325.9 201.8L331.9 212.6L337.9 196.6L343.8 192.4L349.8 181.1L355.8 198.5L361.7 189.6L367.7 197.6L373.7 197.6L379.6 192.4L385.6 185.4L391.5 202.8L397.5 187.2L403.5 182.5L409.4 184.4L415.4 186.3L421.4 176.9L427.3 179.2L433.3 188.2L439.3 186.3L445.2 190.8L451.2 169.8L457.1 178.3L463.1 176.9L469.1 173.1L475.0 154.8L481.0 163.7L487.0 157.1L492.9 169.8L498.9 178.3L504.9 161.8L510.8 164.4L516.8 154.8L522.8 145.9L528.7 165.1L534.7 167.0L540.6 165.6L546.6 159.5L552.6 150.6L558.5 154.1L564.5 160.9L570.5 128.5L576.4 151.5L582.4 154.1L588.4 153.4L594.3 137.4L600.3 135.5L606.2 139.3L612.2 142.6L618.2 138.3L624.1 133.2L630.1 149.6L636.1 139.3L642.0 128.5L648.0 128.5L654.0 126.1" stroke="#8c564b" stroke-width="1.85"/>
<path d="M63.5 310.5L69.5 314.0L75.5 299.9L81.4 317.5L87.4 324.6L93.3 304.3L99.3 318.5L105.3 303.4L111.2 299.9L117.2 319.4L123.2 306.9L129.1 314.0L135.1 304.3L141.1 315.2L147.0 314.0L153.0 302.5L158.9 285.1L164.9 302.0L170.9 306.2L176.8 302.5L182.8 290.9L188.8 296.4L194.7 292.1L200.7 298.2L206.7 304.3L212.6 298.7L218.6 294.5L224.6 296.6L230.5 300.1L236.5 291.6L242.4 306.7L248.4 284.1L254.4 293.1L260.3 287.9L266.3 282.7L272.3 282.2L278.2 279.0L284.2 298.2L290.2 272.8L296.1 279.0L302.1 268.4L308.0 271.9L314.0 274.5L320.0 276.1L325.9 276.6L331.9 268.4L337.9 274.5L343.8 270.0L349.8 265.8L355.8 270.0L361.7 268.8L367.7 268.4L373.7 268.1L379.6 269.1L385.6 261.3L391.5 265.3L397.5 262.0L403.5 256.8L409.4 263.9L415.4 268.1L421.4 258.3L427.3 280.8L433.3 265.8L439.3 266.7L445.2 263.4L451.2 257.3L457.1 251.0L463.1 250.3L469.1 267.7L475.0 252.6L481.0 255.0L487.0 247.9L492.9 252.6L498.9 235.2L504.9 242.3L510.8 233.3L516.8 233.8L522.8 258.7L528.7 242.3L534.7 242.7L540.6 246.5L546.6 246.5L552.6 247.9L558.5 233.8L564.5 232.2L570.5 241.8L576.4 236.2L582.4 234.3L588.4 232.4L594.3 231.0L600.3 228.2L606.2 222.0L612.2 230.0L618.2 225.3L624.1 229.1L630.1 231.0L636.1 231.4L642.0 220.2L648.0 231.0L654.0 224.6" stroke="#e377c2" stroke-width="1.85"/>
<path d="M63.5 221.6L69.5 226.7L75.5 205.3L81.4 215.5L87.4 212.9L93.3 217.1L99.3 216.4L105.3 211.5L111.2 208.4L117.2 204.2L123.2 201.4L129.1 201.4L135.1 211.2L141.1 212.2L147.0 201.4L153.0 207.9L158.9 195.2L164.9 195.7L170.9 200.9L176.8 177.4L182.8 205.8L188.8 185.4L194.7 181.1L200.7 183.5L206.7 177.4L212.6 178.8L218.6 183.5L224.6 187.2L230.5 167.3L236.5 170.1L242.4 178.8L248.4 174.1L254.4 165.1L260.3 163.0L266.3 164.7L272.3 175.0L278.2 153.6L284.2 165.1L290.2 160.9L296.1 152.0L302.1 146.8L308.0 160.0L314.0 136.2L320.0 150.1L325.9 160.0L331.9 147.3L337.9 148.7L343.8 133.2L349.8 142.1L355.8 139.7L361.7 151.5L367.7 143.0L373.7 135.0L379.6 127.0L385.6 139.3L391.5 121.4L397.5 130.8L403.5 127.0L409.4 137.4L415.4 122.8L421.4 122.3L427.3 124.9L433.3 123.8L439.3 118.8L445.2 116.7L451.2 115.8L457.1 103.5L463.1 114.8L469.1 109.6L475.0 111.1L481.0 106.3L487.0 110.1L492.9 92.2L498.9 112.5L504.9 111.3L510.8 95.5L516.8 100.2L522.8 93.2L528.7 91.3L534.7 95.5L540.6 95.1L546.6 87.8L552.6 87.1L558.5 81.4L564.5 84.7L570.5 87.1L576.4 82.8L582.4 85.0L588.4 72.0L594.3 97.9L600.3 76.3L606.2 82.4L612.2 73.9L618.2 69.2L624.1 71.1L630.1 73.0L636.1 63.6L642.0 65.0L648.0 66.8L654.0 56.5" stroke="#1f77b4" stroke-width="1.85"/>
<path d="M63.5 263.4L69.5 265.3L75.5 262.0L81.4 272.4L87.4 256.8L93.3 265.3L99.3 273.3L105.3 255.9L111.2 263.0L117.2 240.9L123.2 238.5L129.1 255.0L135.1 258.5L141.1 252.4L147.0 255.0L153.0 256.8L158.9 252.4L164.9 227.7L170.9 246.0L176.8 249.8L182.8 238.0L188.8 257.3L194.7 240.9L200.7 230.3L206.7 241.8L212.6 239.9L218.6 242.7L224.6 221.6L230.5 239.9L236.5 231.9L242.4 224.9L248.4 214.5L254.4 238.0L260.3 234.7L266.3 231.0L272.3 231.0L278.2 216.4L284.2 215.5L290.2 215.5L296.1 213.6L302.1 211.7L308.0 207.5L314.0 216.9L320.0 208.9L325.9 217.8L331.9 209.8L337.9 210.8L343.8 223.0L349.8 215.0L355.8 205.6L361.7 207.9L367.7 206.5L373.7 203.7L379.6 198.5L385.6 193.4L391.5 203.7L397.5 187.9L403.5 200.4L409.4 188.7L415.4 187.9L421.4 186.3L427.3 188.2L433.3 175.0L439.3 190.8L445.2 192.4L451.2 183.9L457.1 188.2L463.1 191.5L469.1 166.1L475.0 179.2L481.0 172.2L487.0 177.6L492.9 172.2L498.9 173.1L504.9 188.2L510.8 174.1L516.8 166.1L522.8 152.0L528.7 164.4L534.7 157.6L540.6 162.8L546.6 157.6L552.6 176.0L558.5 134.1L564.5 161.8L570.5 160.4L576.4 153.4L582.4 146.3L588.4 160.9L594.3 157.6L600.3 153.4L606.2 159.5L612.2 147.7L618.2 146.3L624.1 135.5L630.1 156.7L636.1 145.4L642.0 134.1L648.0 137.4L654.0 137.4" stroke="#ff7f0e" stroke-width="1.85"/>
<path d="M63.5 267.2L69.5 276.1L75.5 270.5L81.4 272.6L87.4 271.0L93.3 263.0L99.3 263.9L105.3 275.2L111.2 270.5L117.2 269.5L123.2 259.7L129.1 255.9L135.1 261.1L141.1 266.7L147.0 263.4L153.0 260.4L158.9 249.3L164.9 243.7L170.9 247.0L176.8 247.9L182.8 253.1L188.8 249.6L194.7 247.0L200.7 255.7L206.7 245.1L212.6 249.6L218.6 246.0L224.6 256.4L230.5 239.0L236.5 231.9L242.4 230.3L248.4 231.0L254.4 230.3L260.3 227.7L266.3 232.9L272.3 231.9L278.2 229.6L284.2 226.7L290.2 230.3L296.1 230.3L302.1 222.0L308.0 221.1L314.0 219.7L320.0 225.8L325.9 228.2L331.9 224.9L337.9 210.8L343.8 218.8L349.8 215.9L355.8 219.7L361.7 222.0L367.7 221.1L373.7 212.6L379.6 207.5L385.6 203.7L391.5 204.6L397.5 213.6L403.5 201.1L409.4 196.6L415.4 207.5L421.4 193.4L427.3 201.4L433.3 200.4L439.3 190.1L445.2 216.4L451.2 192.4L457.1 187.2L463.1 206.5L469.1 190.8L475.0 190.1L481.0 185.4L487.0 186.3L492.9 178.3L498.9 181.1L504.9 181.1L510.8 174.1L516.8 180.2L522.8 175.0L528.7 192.4L534.7 165.1L540.6 180.7L546.6 166.5L552.6 165.1L558.5 172.7L564.5 170.3L570.5 171.3L576.4 165.1L582.4 163.3L588.4 152.7L594.3 163.3L600.3 168.4L606.2 161.4L612.2 155.3L618.2 174.5L624.1 165.8L630.1 165.8L636.1 158.1L642.0 161.4L648.0 162.3L654.0 167.5" stroke="#7f7f7f" stroke-width="1.85"/>
<path d="M63.5 279.0L69.5 286.9L75.5 293.8L81.4 286.9L87.4 295.4L93.3 283.2L99.3 286.9L105.3 274.5L111.2 283.7L117.2 266.7L123.2 272.8L129.1 266.7L135.1 281.3L141.1 278.0L147.0 271.0L153.0 272.8L158.9 281.3L164.9 263.0L170.9 274.5L176.8 264.8L182.8 262.0L188.8 271.4L194.7 261.1L200.7 249.6L206.7 249.6L212.6 252.1L218.6 255.7L224.6 264.4L230.5 260.1L236.5 252.1L242.4 243.4L248.4 255.7L254.4 261.1L260.3 250.3L266.3 238.0L272.3 247.0L278.2 244.1L284.2 249.6L290.2 240.9L296.1 241.8L302.1 242.3L308.0 228.2L314.0 239.9L320.0 240.6L325.9 236.2L331.9 246.0L337.9 240.6L343.8 247.4L349.8 232.9L355.8 235.2L361.7 240.6L367.7 227.5L373.7 219.7L379.6 220.4L385.6 219.7L391.5 216.9L397.5 227.5L403.5 221.1L409.4 217.8L415.4 225.8L421.4 222.5L427.3 221.6L433.3 210.8L439.3 213.6L445.2 211.7L451.2 199.5L457.1 227.7L463.1 216.9L469.1 212.6L475.0 208.4L481.0 204.6L487.0 204.6L492.9 206.5L498.9 189.1L504.9 209.3L510.8 205.6L516.8 196.2L522.8 187.2L528.7 196.9L534.7 193.4L540.6 202.8L546.6 197.6L552.6 192.2L558.5 187.7L564.5 197.6L570.5 179.0L576.4 180.7L582.4 179.7L588.4 184.4L594.3 188.7L600.3 183.5L606.2 177.4L612.2 170.3L618.2 173.6L624.1 182.5L630.1 179.0L636.1 178.3L642.0 185.1L648.0 173.6L654.0 167.5" stroke="#bcbd22" stroke-width="1.85"/>
</g>
<path d="M57.6 362.2v3.3M176.8 362.2v3.3M296.1 362.2v3.3M415.4 362.2v3.3M534.7 362.2v3.3M654.0 362.2v3.3M34.0 341.5h-3.3M34.0 294.5h-3.3M34.0 247.4h-3.3M34.0 200.4h-3.3M34.0 153.4h-3.3M34.0 106.3h-3.3M34.0 59.3h-3.3" stroke="#000" stroke-width="0.8" fill="none"/>
<rect x="34.0" y="16.3" width="649.65" height="345.9" fill="none" stroke="#000" stroke-opacity="0.85" stroke-width="0.9"/>
<g font-family="'DejaVu Sans', 'Liberation Sans', sans-serif" font-weight="bold" fill="#000">
<g font-size="9.6">
<text x="57.6" y="376.0" text-anchor="middle">0</text>
<text x="176.8" y="376.0" text-anchor="middle">20</text>
<text x="296.1" y="376.0" text-anchor="middle">40</text>
<text x="415.4" y="376.0" text-anchor="middle">60</text>
<text x="534.7" y="376.0" text-anchor="middle">80</text>
<text x="654.0" y="376.0" text-anchor="middle">100</text>
<text x="28.2" y="345.2" text-anchor="end">30</text>
<text x="28.2" y="298.2" text-anchor="end">40</text>
<text x="28.2" y="251.1" text-anchor="end">50</text>
<text x="28.2" y="204.1" text-anchor="end">60</text>
<text x="28.2" y="157.1" text-anchor="end">70</text>
<text x="28.2" y="110.0" text-anchor="end">80</text>
<text x="28.2" y="63.0" text-anchor="end">90</text>
</g>
<text x="358.8" y="10.6" font-size="13.0" text-anchor="middle">Comparison of Episode-wise Rewards in CartPole-v1</text>
<text x="358.8" y="389.2" font-size="11.3" text-anchor="middle">Episodes</text>
<text transform="translate(10.1 190.2) rotate(-90)" font-size="11.3" text-anchor="middle">Reward</text>
</g>
<rect x="38.2" y="20.3" width="111.8" height="111.39999999999999" rx="2" ry="2" fill="#fff" fill-opacity="0.8" stroke="#ccc" stroke-opacity="0.8" stroke-width="0.9"/>
<g font-family="'DejaVu Sans', 'Liberation Sans', sans-serif" font-size="8.05" fill="#000">
<path d="M40.7 26.8H58.1" stroke="#2ca02c" stroke-width="1.7" fill="none"/>
<text x="64.3" y="29.7">BiPaRS</text>
<path d="M40.7 39.0H58.1" stroke="#d62728" stroke-width="1.7" fill="none"/>
<text x="64.3" y="41.9">Boltzmann</text>
<path d="M40.7 51.2H58.1" stroke="#9467bd" stroke-width="1.7" fill="none"/>
<text x="64.3" y="54.1">Count-Based</text>
<path d="M40.7 63.5H58.1" stroke="#8c564b" stroke-width="1.7" fill="none"/>
<text x="64.3" y="66.4">Entropy-Based</text>
<path d="M40.7 75.7H58.1" stroke="#e377c2" stroke-width="1.7" fill="none"/>
<text x="64.3" y="78.6">Epsilon-Greedy</text>
<path d="M40.7 87.9H58.1" stroke="#1f77b4" stroke-width="1.7" fill="none"/>
<text x="64.3" y="90.8">GNN-IRL (Proposed)</text>
<path d="M40.7 100.1H58.1" stroke="#ff7f0e" stroke-width="1.7" fill="none"/>
<text x="64.3" y="103.0">RND</text>
<path d="M40.7 112.3H58.1" stroke="#7f7f7f" stroke-width="1.7" fill="none"/>
<text x="64.3" y="115.2">Thompson Sampling</text>
<path d="M40.7 124.6H58.1" stroke="#bcbd22" stroke-width="1.7" fill="none"/>
<text x="64.3" y="127.5">UCB</text>
</g>
</svg>
</body></html>
